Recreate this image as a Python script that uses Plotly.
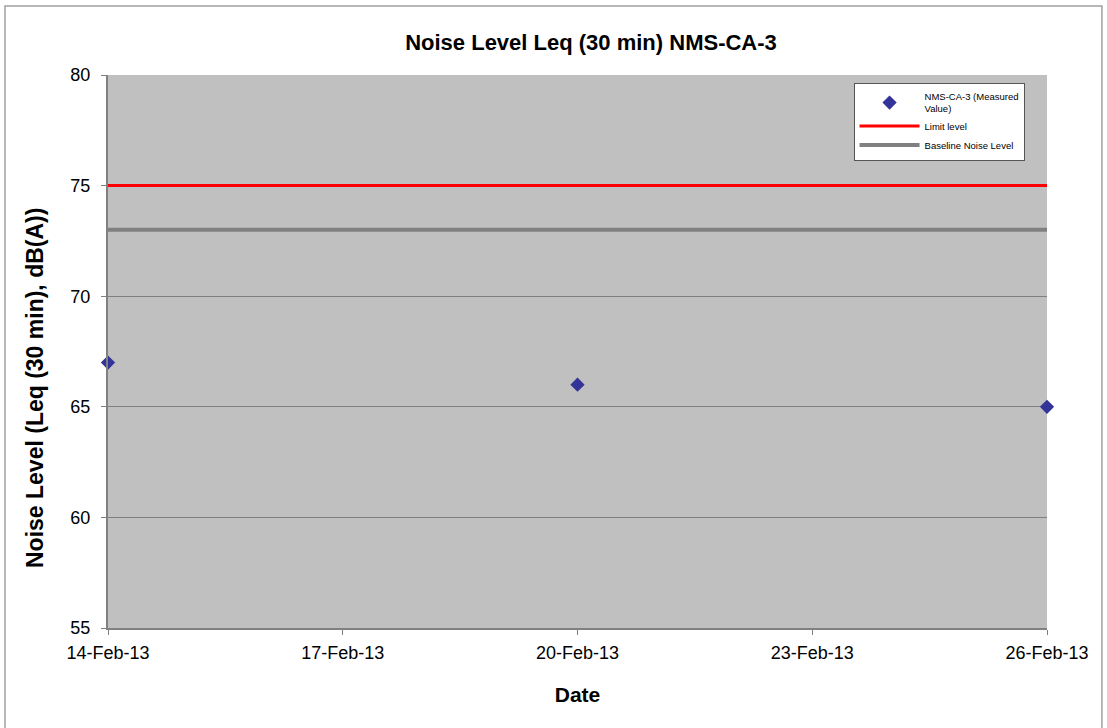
import plotly.graph_objects as go

# Measured values at NMS-CA-3
dates = ["2013-02-14", "2013-02-20", "2013-02-26"]
measured = [67, 66, 65]

# Reference levels across the monitoring period
line_dates = ["2013-02-14", "2013-02-26"]
limit_level = [75, 75]
baseline_level = [73, 73]

tick_dates = ["2013-02-14", "2013-02-17", "2013-02-20", "2013-02-23", "2013-02-26"]
tick_labels = ["14-Feb-13", "17-Feb-13", "20-Feb-13", "23-Feb-13", "26-Feb-13"]

font_family = "Liberation Sans, Arial, sans-serif"

fig = go.Figure()
fig.add_trace(go.Scatter(
    x=dates, y=measured, mode="markers", name="NMS-CA-3 (Measured<br>Value)",
    marker=dict(symbol="diamond", size=11, color="#333399"),
    cliponaxis=False,
))
fig.add_trace(go.Scatter(
    x=line_dates, y=limit_level, mode="lines", name="Limit level",
    line=dict(color="#ff0000", width=3),
))
fig.add_trace(go.Scatter(
    x=line_dates, y=baseline_level, mode="lines", name="Baseline Noise Level",
    line=dict(color="#808080", width=4),
))

fig.update_layout(
    width=1107, height=728,
    margin=dict(l=108, r=60, t=75, b=100),
    paper_bgcolor="white",
    plot_bgcolor="#c0c0c0",
    font=dict(family=font_family, color="black"),
    title=dict(
        text="<b>Noise Level Leq (30 min) NMS-CA-3</b>",
        x=591 / 1107, xref="container", xanchor="center",
        y=1 - 42 / 728, yref="container", yanchor="middle",
        font=dict(size=22),
    ),
    showlegend=True,
    legend=dict(
        x=0.794, y=0.986, xanchor="left", yanchor="top",
        bgcolor="white", bordercolor="#555555", borderwidth=1,
        font=dict(size=9.5), itemwidth=60, tracegroupgap=0,
    ),
    xaxis=dict(
        range=["2013-02-14", "2013-02-26"],
        tickvals=tick_dates, ticktext=tick_labels,
        tickfont=dict(size=18),
        ticks="outside", ticklen=5, tickcolor="#808080",
        ticklabelstandoff=2,
        showgrid=False, zeroline=False,
        showline=True, linecolor="#808080", linewidth=2,
        title=dict(text="<b>Date</b>", font=dict(size=21), standoff=26),
    ),
    yaxis=dict(
        range=[55, 80], dtick=5,
        tickfont=dict(size=18),
        ticks="outside", ticklen=5, tickcolor="#808080",
        ticklabelstandoff=7,
        showgrid=True, gridcolor="#808080", gridwidth=1,
        zeroline=False,
        showline=True, linecolor="#808080", linewidth=2,
    ),
    annotations=[
        dict(text="<b>Noise Level (Leq (30 min), dB(A))</b>",
             xref="paper", yref="paper",
             x=(35 - 108) / 939, y=(628 - 388) / 553,
             xanchor="center", yanchor="middle",
             textangle=-90, showarrow=False, font=dict(size=23)),
    ],
    shapes=[
        dict(type="rect", xref="paper", yref="paper",
             x0=-0.1097, x1=1.0585, y0=-0.25, y1=1.1248,
             line=dict(color="#a0a0a0", width=1.5), layer="below"),
    ],
)

fig.write_html("out.html")
